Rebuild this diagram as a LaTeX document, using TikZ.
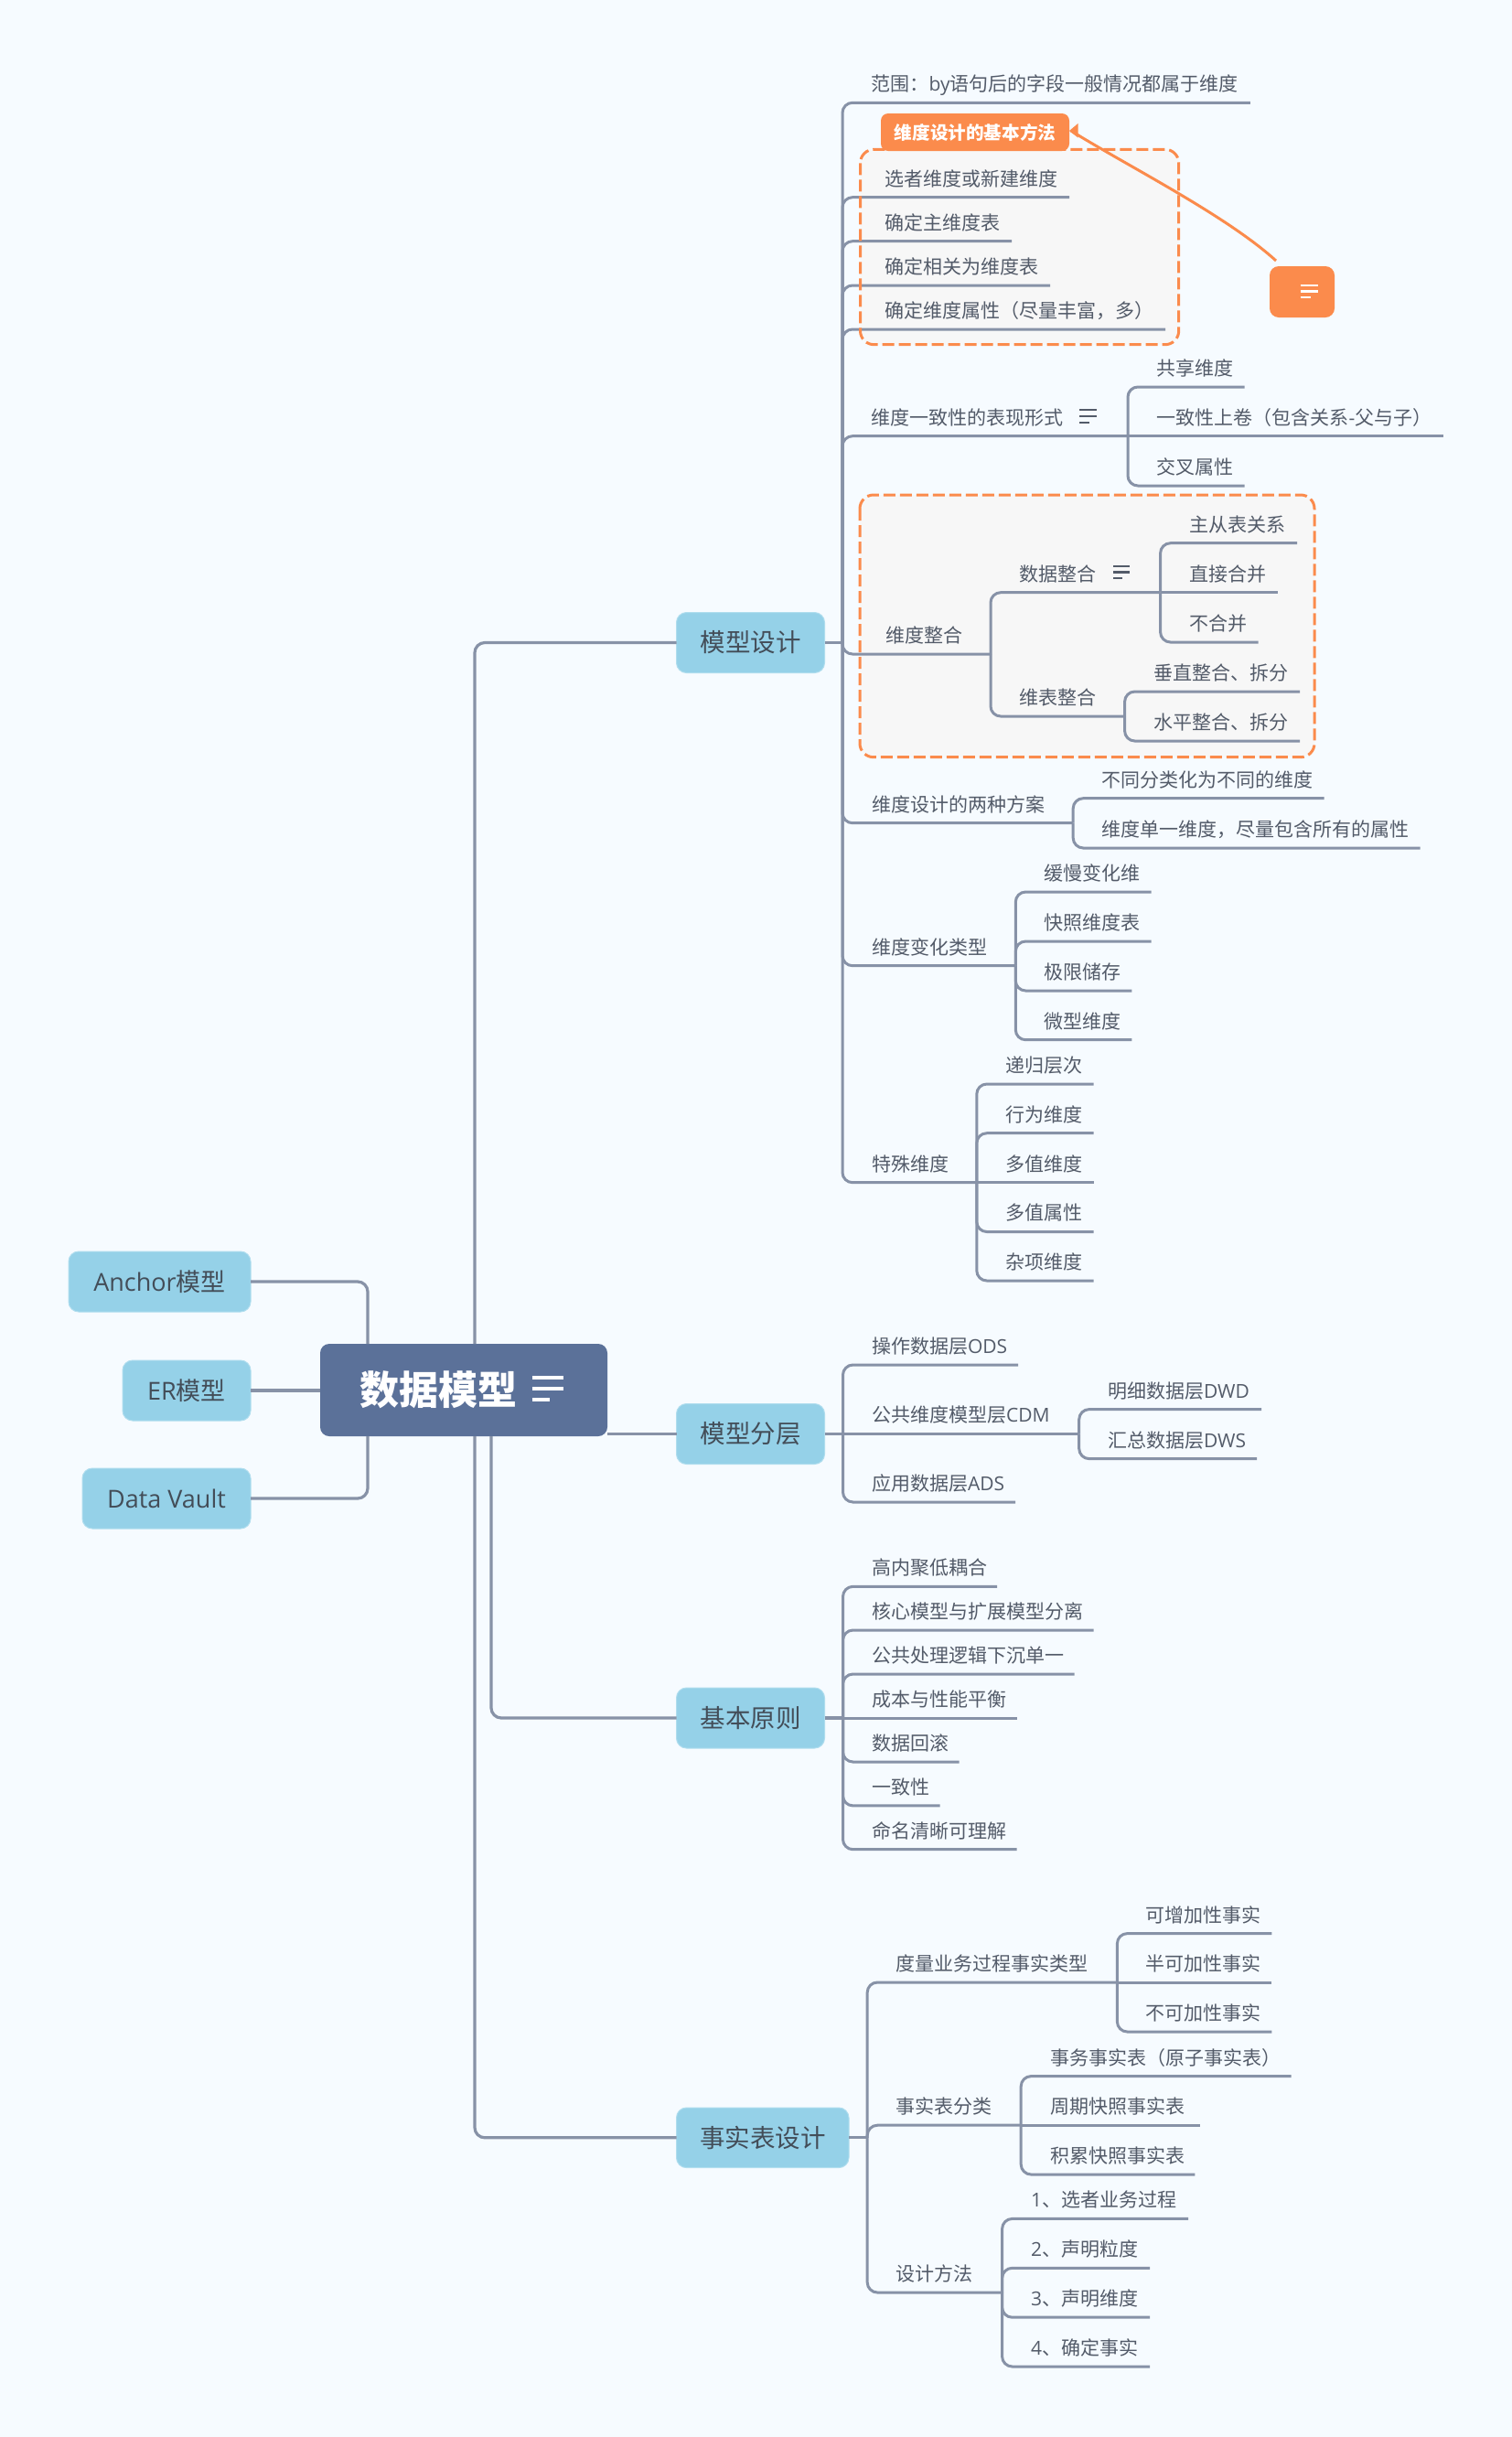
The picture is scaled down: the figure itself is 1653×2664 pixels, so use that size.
\documentclass[tikz,border=0pt]{standalone}
\usepackage{fontspec}
\setmainfont{Noto Sans CJK SC}
\newfontfamily\latf{Open Sans}
\definecolor{pagebg}{HTML}{F6FBFF}
\definecolor{linec}{HTML}{8792A7}
\definecolor{textc}{HTML}{535B69}
\definecolor{headc}{HTML}{434D58}
\definecolor{topicc}{HTML}{95D1E8}
\definecolor{rootc}{HTML}{5B7199}
\definecolor{orangec}{HTML}{FB8B4C}
\definecolor{groupc}{HTML}{F7F7F7}
\tikzset{
  conn/.style={draw=linec,line width=3pt,rounded corners=11pt},
  mainconn/.style={draw=linec,line width=3.2pt,rounded corners=11pt},
  leaf/.style={anchor=south west,inner sep=0pt,outer sep=0pt,align=left,text=textc,
    font=\fontsize{21}{25}\selectfont,text height=18pt,text depth=12.6pt},
  topic/.style={rectangle,rounded corners=11pt,fill=topicc,draw=topicc!75!white,line width=1pt,
    inner sep=0pt,outer sep=0pt,text=headc,font=\fontsize{27.5}{32}\selectfont},
  subt/.style={rectangle,rounded corners=11pt,fill=topicc,draw=topicc!75!white,line width=1pt,
    inner sep=0pt,outer sep=0pt,text=headc,font=\fontsize{27}{32}\selectfont},
  rootn/.style={rectangle,rounded corners=10pt,fill=rootc,inner sep=0pt,outer sep=0pt,
    text=white,font=\fontsize{43}{48}\selectfont\bfseries},
  groupdash/.style={draw=orangec,line width=3pt,dash pattern=on 13pt off 5pt,rounded corners=15pt},
  groupfill/.style={fill=groupc,rounded corners=15pt},
  iconl/.style={line width=2.2pt},
}
\newcommand{\leaf}[5]{\pgfmathsetmacro\leafw{#4-#2}\node[leaf,text width=\leafw pt] (#1) at (#2,#3) {#5};}
\newcommand{\twig}[2]{\draw[conn] (#1) |- (#2.south west) -- (#2.south east);}
\newcommand{\twigflat}[2]{\draw[conn] (#1) -- (#2.south west) -- (#2.south east);}
\newcommand{\boxn}[7]{\pgfmathsetmacro\bw{#4-#2}\pgfmathsetmacro\bh{#5-#3}\pgfmathsetmacro\bx{(#2+#4)/2}\pgfmathsetmacro\by{(#3+#5)/2}%
  \node[#6,minimum width=\bw pt,minimum height=\bh pt] (#1) at (\bx,\by) {#7};}
\newcommand{\iconlines}[5]{\pgfmathsetmacro\ix{#1+#3}\pgfmathsetmacro\ixs{#1+0.58*#3}\pgfmathsetmacro\iya{#2+#4}\pgfmathsetmacro\iyb{#2+2*#4}%
  \draw[iconl,#5] (#1,#2) -- (\ix,#2) (#1,\iya) -- (\ix,\iya) (#1,\iyb) -- (\ixs,\iyb);}
\begin{document}
\begin{tikzpicture}[x=1pt,y=-1pt]
\useasboundingbox[fill=pagebg] (0,0) rectangle (1653,2664);
% group backgrounds
\path[groupfill] (940.5,163.3) rectangle (1288.7,376.7);
\path[groupfill] (940,541) rectangle (1437,827.7);
% topics
\boxn{root}{350}{1469}{664}{1570}{rootn}{\hspace*{-56pt}数据模型}
\boxn{tdesign}{739.5}{669.5}{901.5}{735.5}{topic}{模型设计}
\boxn{tlayer}{739.5}{1534.5}{901.5}{1600.5}{topic}{模型分层}
\boxn{tprin}{739.5}{1845}{901.5}{1911}{topic}{基本原则}
\boxn{tfact}{739.5}{2304}{928}{2369.6}{topic}{事实表设计}
\boxn{anchor}{75}{1368}{274}{1434}{subt}{{\latf Anchor}模型}
\boxn{ermodel}{134}{1487}{274}{1553}{subt}{{\latf ER}模型}
\boxn{vault}{90}{1605}{274}{1671}{subt}{{\latf Data Vault}}
% junction points
\coordinate (rootTL) at (402,1469);
\coordinate (rootBL) at (402,1570);
\coordinate (rootTM) at (519,1469);
\coordinate (rootBM) at (519,1570);
\coordinate (rootBR) at (537,1570);
\coordinate (busD) at (921,702.5);
\coordinate (busL) at (921.5,1567.5);
\coordinate (busP) at (921.5,1878);
\coordinate (busF) at (948.2,2336.8);
% root connectors
\draw[mainconn] (anchor.east) -| (rootTL);
\draw[mainconn] (ermodel.east) -- (ermodel.east -| root.west);
\draw[mainconn] (vault.east) -| (rootBL);
\draw[mainconn] (rootTM) |- (tdesign.west);
\draw[mainconn] (rootBM) |- (tfact.west);
\draw[mainconn] (rootBR) |- (tprin.west);
\draw[mainconn] (tlayer.west -| root.east) -- (tlayer.west);
\draw[mainconn] (tdesign.east) -- (busD);
\draw[mainconn] (tlayer.east) -- (busL);
\draw[mainconn] (tprin.east) -- (busP);
\draw[mainconn] (tfact.east) -- (busF);
% 模型设计
\leaf{a1}{952.7}{112.3}{1366.8}{范围：{\latf by}语句后的字段一般情况都属于维度}
\leaf{a2}{967}{215.7}{1169}{选者维度或新建维度}
\leaf{a3}{967}{263.7}{1106}{确定主维度表}
\leaf{a4}{967}{312}{1148}{确定相关为维度表}
\leaf{a5}{967}{360}{1274}{确定维度属性（尽量丰富，多）}
\leaf{a6}{952.7}{476.7}{1233}{维度一致性的表现形式}
\leaf{a61}{1264.6}{423}{1360.7}{共享维度}
\leaf{a62}{1264.6}{476.7}{1578}{一致性上卷（包含关系{\latf -}父与子）}
\leaf{a63}{1264.6}{531}{1360.7}{交叉属性}
\leaf{a7}{968}{715}{1083}{维度整合}
\leaf{a71}{1114}{647.7}{1268.6}{数据整合}
\leaf{a711}{1300.7}{593.7}{1418}{主从表关系}
\leaf{a712}{1300.7}{647.7}{1397}{直接合并}
\leaf{a713}{1300.7}{702}{1375.7}{不合并}
\leaf{a72}{1114}{783}{1229.6}{维表整合}
\leaf{a721}{1261.8}{756}{1421}{垂直整合、拆分}
\leaf{a722}{1261.8}{810}{1421}{水平整合、拆分}
\leaf{a8}{953}{899.7}{1173.2}{维度设计的两种方案}
\leaf{a81}{1204.4}{872.7}{1447.7}{不同分类化为不同的维度}
\leaf{a82}{1204.4}{927}{1552.6}{维度单一维度，尽量包含所有的属性}
\leaf{a9}{953}{1055.7}{1110.3}{维度变化类型}
\leaf{a91}{1141.5}{975}{1258.6}{缓慢变化维}
\leaf{a92}{1141.5}{1029}{1258.6}{快照维度表}
\leaf{a93}{1141.5}{1083}{1237.4}{极限储存}
\leaf{a94}{1141.5}{1136.7}{1237.4}{微型维度}
\leaf{a10}{953}{1292.7}{1067.8}{特殊维度}
\leaf{a101}{1099.5}{1185}{1195.7}{递归层次}
\leaf{a102}{1099.5}{1238.7}{1195.7}{行为维度}
\leaf{a103}{1099.5}{1292.7}{1195.7}{多值维度}
\leaf{a104}{1099.5}{1346.5}{1195.7}{多值属性}
\leaf{a105}{1099.5}{1400}{1195.7}{杂项维度}
\twig{busD}{a1}\twig{busD}{a2}\twig{busD}{a3}\twig{busD}{a4}\twig{busD}{a5}\twig{busD}{a6}
\twig{busD}{a7}\twig{busD}{a8}\twig{busD}{a9}\twig{busD}{a10}
\twig{a6.south east}{a61}\twigflat{a6.south east}{a62}\twig{a6.south east}{a63}
\twig{a7.south east}{a71}\twig{a7.south east}{a72}
\twig{a71.south east}{a711}\twigflat{a71.south east}{a712}\twig{a71.south east}{a713}
\twig{a72.south east}{a721}\twig{a72.south east}{a722}
\twig{a8.south east}{a81}\twig{a8.south east}{a82}
\twig{a9.south east}{a91}\twig{a9.south east}{a92}\twig{a9.south east}{a93}\twig{a9.south east}{a94}
\twig{a10.south east}{a101}\twig{a10.south east}{a102}\twigflat{a10.south east}{a103}\twig{a10.south east}{a104}\twig{a10.south east}{a105}
% 模型分层
\leaf{b1}{953}{1492}{1113}{操作数据层{\latf ODS}}
\leaf{b2}{953}{1567.5}{1179.7}{公共维度模型层{\latf CDM}}
\leaf{b21}{1211}{1540.6}{1379}{明细数据层{\latf DWD}}
\leaf{b22}{1211}{1594.6}{1374}{汇总数据层{\latf DWS}}
\leaf{b3}{953}{1642}{1110}{应用数据层{\latf ADS}}
\twig{busL}{b1}\twigflat{busL}{b2}\twig{busL}{b3}
\twig{b2.south east}{b21}\twig{b2.south east}{b22}
% 基本原则
\leaf{c1}{953}{1734.3}{1090}{高内聚低耦合}
\leaf{c2}{953}{1782}{1195.7}{核心模型与扩展模型分离}
\leaf{c3}{953}{1830}{1174.5}{公共处理逻辑下沉单一}
\leaf{c4}{953}{1878}{1111.6}{成本与性能平衡}
\leaf{c5}{953}{1926}{1048.7}{数据回滚}
\leaf{c6}{953}{1973.9}{1027.5}{一致性}
\leaf{c7}{953}{2021.7}{1111.6}{命名清晰可理解}
\twig{busP}{c1}\twig{busP}{c2}\twig{busP}{c3}\twigflat{busP}{c4}\twig{busP}{c5}\twig{busP}{c6}\twig{busP}{c7}
% 事实表设计
\leaf{d1}{979.4}{2167}{1221.4}{度量业务过程事实类型}
\leaf{d11}{1252.6}{2113.6}{1390.3}{可增加性事实}
\leaf{d12}{1252.6}{2167}{1390.3}{半可加性事实}
\leaf{d13}{1252.6}{2221}{1390.3}{不可加性事实}
\leaf{d2}{979.4}{2323.2}{1116.2}{事实表分类}
\leaf{d21}{1148}{2269.6}{1411.5}{事务事实表（原子事实表）}
\leaf{d22}{1148}{2323.2}{1312.3}{周期快照事实表}
\leaf{d23}{1148}{2377}{1306.3}{积累快照事实表}
\leaf{d3}{979.4}{2506}{1095.6}{设计方法}
\leaf{d31}{1127.2}{2425.4}{1299}{{\latf 1}、选者业务过程}
\leaf{d32}{1127.2}{2479.3}{1257.2}{{\latf 2}、声明粒度}
\leaf{d33}{1127.2}{2533.2}{1257.2}{{\latf 3}、声明维度}
\leaf{d34}{1127.2}{2587}{1257.2}{{\latf 4}、确定事实}
\twig{busF}{d1}\twig{busF}{d2}\twig{busF}{d3}
\twig{d1.south east}{d11}\twigflat{d1.south east}{d12}\twig{d1.south east}{d13}
\twig{d2.south east}{d21}\twigflat{d2.south east}{d22}\twig{d2.south east}{d23}
\twig{d3.south east}{d31}\twig{d3.south east}{d32}\twig{d3.south east}{d33}\twig{d3.south east}{d34}
% dashed outlines
\path[groupdash] (940.5,163.3) rectangle (1288.7,376.7);
\path[groupdash] (940,541) rectangle (1437,827.7);
% tab and note
\fill[orangec,rounded corners=8pt] (963,165) -- (963,124) -- (1169,124) -- (1169,165) -- cycle;
\node[inner sep=0pt,text=white,font=\fontsize{19.6}{24}\selectfont\bfseries] (tab) at (1066,145) {维度设计的基本方法};
\boxn{note}{1388}{291}{1459}{347}{fill=orangec,rounded corners=10pt,inner sep=0pt}{}
\coordinate (noteout) at (1395,285);
\coordinate (tabin) at (1171,143);
\draw[orangec,line width=3pt] (noteout) .. controls (1340,235) and (1230,180) .. (tabin);
\fill[orangec] (1169,143) -- (1178.5,135) -- (1178.5,150.5) -- cycle;
% note icons
\iconlines{581.6}{1506}{34}{12}{white,line width=3.4pt}
\iconlines{1421.5}{312}{19.5}{6.5}{white}
\iconlines{1180}{448}{19}{7}{textc}
\iconlines{1217}{619}{18}{6.5}{textc}
\end{tikzpicture}
\end{document}
